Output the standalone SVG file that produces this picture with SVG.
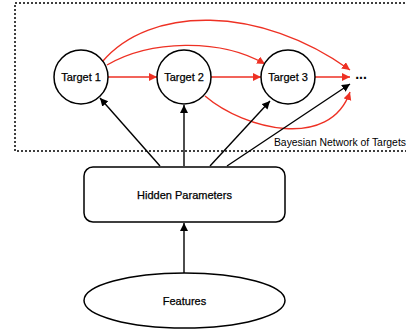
<svg xmlns="http://www.w3.org/2000/svg" width="406" height="335" viewBox="0 0 406 335">
<style>
.node{fill:#fff;stroke:#000;stroke-width:1.5}
.lbl{font-family:"Liberation Sans",Arial,sans-serif;font-size:11px;fill:#000;text-anchor:middle;dominant-baseline:central;stroke:#000;stroke-width:0.25}
.blk{fill:none;stroke:#000;stroke-width:1.4}
.red{fill:none;stroke:#ee3124;stroke-width:1.4}
</style>
<defs>
<marker id="ab" markerUnits="userSpaceOnUse" markerWidth="10" markerHeight="10" refX="8" refY="4" orient="auto"><path d="M0,0 L8,4 L0,8 z" fill="#000"/></marker>
<marker id="ar" markerUnits="userSpaceOnUse" markerWidth="10" markerHeight="10" refX="8" refY="4" orient="auto"><path d="M0,0 L8,4 L0,8 z" fill="#ee3124"/></marker>
</defs>
<g id="group">
<rect x="15" y="3" width="410" height="148" fill="none" stroke="#000" stroke-width="1.5" stroke-dasharray="2,2"/>
<text x="406" y="146" style="font-family:'Liberation Sans',Arial,sans-serif;font-size:10.4px;fill:#000;text-anchor:end">Bayesian Network of Targets</text>
</g>
<g id="connectors">
<path class="red" d="M108,77 L157,77" marker-end="url(#ar)"/>
<path class="red" d="M211,77 L261,77" marker-end="url(#ar)"/>
<path class="red" d="M315,77 L350,77" marker-end="url(#ar)"/>
<path class="red" d="M102,62 C150,5 260,5 350,70" marker-end="url(#ar)"/>
<path class="red" d="M107,65 C150,40 220,38 265,64" marker-end="url(#ar)"/>
<path class="red" d="M205,96 C245,130 330,150 350,92" marker-end="url(#ar)"/>
<path class="blk" d="M160,166 L100,98" marker-end="url(#ab)"/>
<path class="blk" d="M184,166 L184,105" marker-end="url(#ab)"/>
<path class="blk" d="M210,166 L270,101" marker-end="url(#ab)"/>
<path class="blk" d="M227,166 L350,84" marker-end="url(#ab)"/>
<path class="blk" d="M184,273 L184,223" marker-end="url(#ab)"/>
</g>
<g id="target1"><circle class="node" cx="81" cy="77" r="27"/><text class="lbl" x="81" y="77">Target 1</text></g>
<g id="target2"><circle class="node" cx="184" cy="77" r="27"/><text class="lbl" x="184" y="77">Target 2</text></g>
<g id="target3"><circle class="node" cx="288" cy="77" r="27"/><text class="lbl" x="288" y="77">Target 3</text></g>
<g id="more"><text x="361" y="79" style="font-family:'Liberation Sans',Arial,sans-serif;font-size:14px;font-weight:bold;fill:#000;text-anchor:middle">...</text></g>
<g id="hidden"><rect class="node" x="84" y="167" width="201" height="55" rx="9"/><text class="lbl" x="184.5" y="194.5">Hidden Parameters</text></g>
<g id="features"><ellipse class="node" cx="184.5" cy="300.5" rx="100.5" ry="27.5"/><text class="lbl" x="184.5" y="301">Features</text></g>
</svg>
